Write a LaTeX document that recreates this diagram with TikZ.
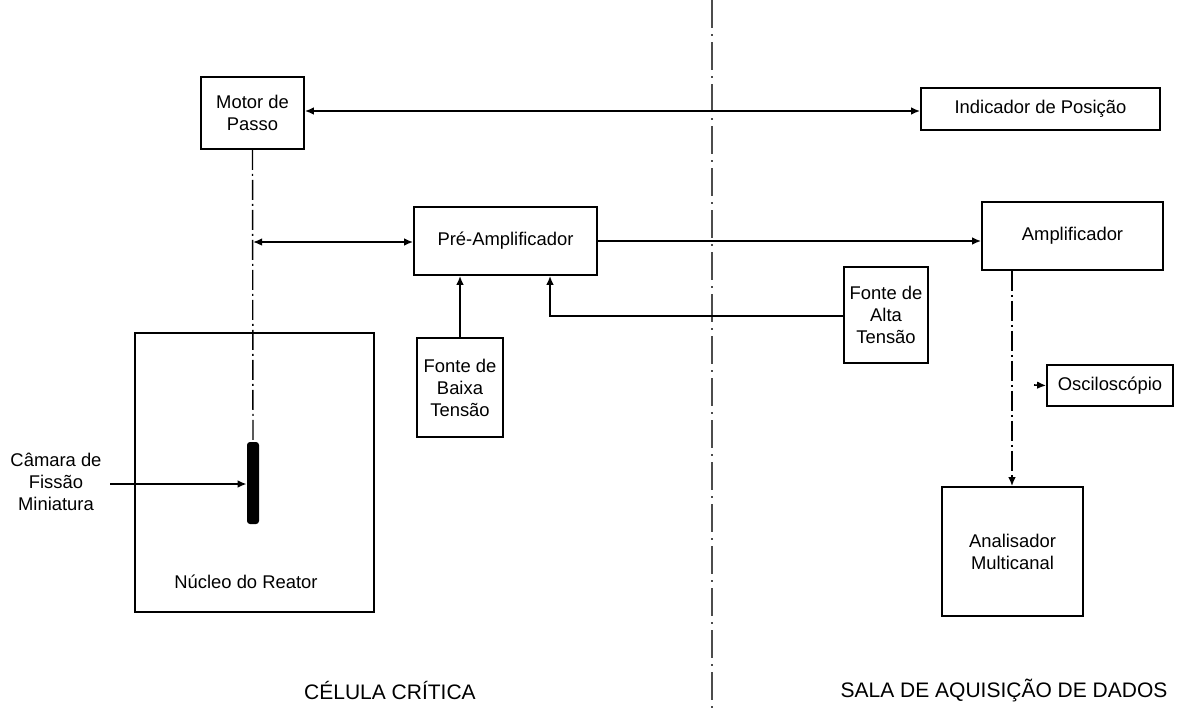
\documentclass[tikz,border=0pt]{standalone}
\usepackage{fontspec}
\setmainfont{Liberation Sans}
\usetikzlibrary{arrows.meta,calc}
\tikzset{
  blk/.style={draw, line width=0.9pt, inner sep=0pt, align=center,
    font=\fontsize{9.2}{11}\selectfont},
  lbl/.style={inner sep=0pt, align=center, font=\fontsize{9.2}{11}\selectfont},
  big/.style={inner sep=0pt, font=\fontsize{10.5}{12}\selectfont},
  conn/.style={line width=0.8pt},
  arr/.style={conn, -{Latex[length=4.5pt,width=3.8pt]}},
  darr/.style={conn, {Latex[length=4.5pt,width=3.8pt]}-{Latex[length=4.5pt,width=3.8pt]}},
  dashdotline/.style={line width=0.7pt, dash pattern=on 10pt off 2pt on 1pt off 2pt},
  divider/.style={line width=0.6pt, black!70, dash pattern=on 14pt off 3pt on 1pt off 3pt}
}
\begin{document}
\begin{tikzpicture}[x=0.5pt,y=-0.5pt]
\useasboundingbox (0,0) rectangle (1197,709);

% divider
\coordinate (dtop) at (712,0);
\coordinate (dbot) at (712,709);
\draw[divider] (dtop) -- (dbot);

% boxes
\node[blk, minimum width=51.5pt, minimum height=36pt] (motor) at (252.5,113) {Motor de\\Passo};
\node[blk, minimum width=119.5pt, minimum height=21pt] (indic) at (1040.5,109) {Indicador de Posição};
\node[blk, minimum width=91.5pt, minimum height=34pt] (pre) at (505.5,241) {Pré-Amplificador};
\node[blk, minimum width=43pt, minimum height=49.5pt] (baixa) at (460,387.5) {Fonte de\\Baixa\\Tensão};
\node[blk, minimum width=42pt, minimum height=48pt] (alta) at (886,315) {Fonte de\\Alta\\Tensão};
\node[blk, minimum width=90.5pt, minimum height=34pt] (amp) at (1072.5,236) {Amplificador};
\node[blk, minimum width=63pt, minimum height=20.5pt] (osc) at (1110,385.5) {Osciloscópio};
\node[blk, minimum width=70.5pt, minimum height=64.5pt] (ana) at (1012.5,551.5) {Analisador\\Multicanal};
\node[draw, line width=0.9pt, minimum width=119.5pt, minimum height=139.5pt, inner sep=0pt] (core) at (254.5,472.5) {};
\node[lbl] (corelbl) at (246,582) {Núcleo do Reator};

% fission chamber rod
\node[fill=black, rounded corners=1.5pt, minimum width=6pt, minimum height=41pt, inner sep=0pt] (rod) at (253,483) {};
\node[lbl] (camara) at (56,482) {Câmara de\\Fissão\\Miniatura};
\coordinate (camin) at (110,484);
\draw[arr] (camin) -- (camin -| rod.west);

% motor vertical line to rod
\draw[dashdotline] (motor.south) -- (rod.north);

% motor <-> indicador
\draw[darr] (indic.west |- 0,111) -- (motor.east |- 0,111);

% pre-amp <-> motor line
\coordinate (tap) at (253,242);
\draw[darr] (tap) -- (tap -| pre.west);

% baixa -> pre
\draw[arr] (baixa.north) -- (baixa.north |- pre.south);

% alta -> pre
\coordinate (altabend) at (550,316);
\draw[arr] (altabend -| alta.west) -- (altabend) -- (altabend |- pre.south);

% pre -> amp
\draw[arr] (pre.east) -- (pre.east -| amp.west);

% amp -> analisador
\coordinate (ampdown) at (1012,0);
\draw[dashdotline] (amp.south -| ampdown) -- ($(ana.north -| ampdown)+(0,-8)$);
\draw[arr] ($(ana.north -| ampdown)+(0,-9)$) -- (ana.north -| ampdown);

% oscilloscope arrow
\coordinate (oscin) at (1034,385);
\draw[arr] (oscin) -- (osc.west);

% region labels
\node[big] (cel) at (390,690) {CÉLULA CRÍTICA};
\node[big] (sala) at (1004,690) {SALA DE AQUISIÇÃO DE DADOS};
\end{tikzpicture}
\end{document}
